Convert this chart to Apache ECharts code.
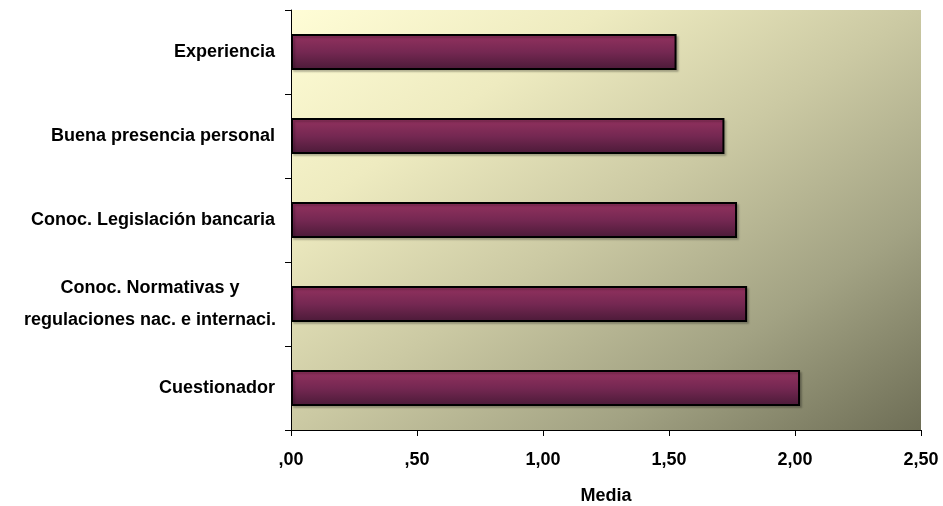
<!DOCTYPE html>
<html>
<head>
<meta charset="utf-8">
<script src="https://cdn.jsdelivr.net/npm/echarts@6/dist/echarts.min.js"></script>
<style>
  html, body { margin: 0; padding: 0; background: #ffffff; }
  #chart { width: 943px; height: 506px; }
</style>
</head>
<body>
<div id="chart"></div>
<script>
// Categories listed bottom to top (category axis grows upward)
const categories = [
  'Cuestionador',
  'Conoc. Normativas y\nregulaciones nac. e internaci.',
  'Conoc. Legislación bancaria',
  'Buena presencia personal',
  'Experiencia'
];
const media = [2.02, 1.81, 1.77, 1.72, 1.53];
const xTicks = [0, 0.5, 1, 1.5, 2, 2.5];

const FONT = '"Liberation Sans", Arial, sans-serif';
const FS = 18;

function fmtTick(v) {
  // 0.5 -> ",50", 1.5 -> "1,50"
  let s = v.toFixed(2).replace('.', ',');
  if (s.startsWith('0')) s = s.slice(1);
  return s;
}

// Plot area box in pixels
const G = { left: 291, right: 22, top: 10, bottom: 76 };
const W = 943 - G.left - G.right;
const H = 506 - G.top - G.bottom;
// Diagonal shading whose bands run parallel to the box's anti-diagonal
const k = (2 * W * H) / (H * H + W * W);
const bgGrad = new echarts.graphic.LinearGradient(
  G.left, G.top, G.left + H * k, G.top + W * k,
  [
    { offset: 0, color: '#fffdd6' },
    { offset: 0.25, color: '#eeebc0' },
    { offset: 0.5, color: '#cbc9a3' },
    { offset: 0.75, color: '#a2a283' },
    { offset: 1, color: '#6e6e56' }
  ],
  true
);

const chart = echarts.init(document.getElementById('chart'), null, { renderer: 'canvas' });

chart.setOption({
  animation: false,
  backgroundColor: '#ffffff',
  grid: {
    left: G.left, right: G.right, top: G.top, bottom: G.bottom,
    containLabel: false,
    outerBoundsMode: 'none',
    show: true,
    borderWidth: 0,
    backgroundColor: bgGrad
  },
  xAxis: {
    type: 'value',
    min: xTicks[0],
    max: xTicks[xTicks.length - 1],
    interval: 0.5,
    name: 'Media',
    nameLocation: 'middle',
    nameGap: 57,
    nameTextStyle: { fontFamily: FONT, fontWeight: 'bold', fontSize: FS, color: '#000' },
    axisLine: { show: true, lineStyle: { color: '#000', width: 1 } },
    axisTick: { show: true, length: 6, lineStyle: { color: '#000' } },
    axisLabel: {
      margin: 21,
      fontFamily: FONT, fontWeight: 'bold', fontSize: FS, color: '#000',
      formatter: fmtTick
    },
    splitLine: { show: false }
  },
  yAxis: {
    type: 'category',
    data: categories,
    axisLine: { show: true, lineStyle: { color: '#000', width: 1 } },
    axisTick: { show: true, length: 6, lineStyle: { color: '#000' } },
    axisLabel: {
      margin: 16,
      fontFamily: FONT, fontWeight: 'bold', fontSize: FS, color: '#000',
      lineHeight: 32,
      formatter: function (v) {
        if (v.indexOf('\n') >= 0) {
          return v.split('\n').map(function (l) { return '{c|' + l + '}'; }).join('\n');
        }
        return v;
      },
      rich: {
        c: {
          width: 250, align: 'center',
          fontFamily: FONT, fontWeight: 'bold', fontSize: FS, color: '#000', lineHeight: 32
        }
      }
    }
  },
  series: [{
    type: 'bar',
    data: media,
    barWidth: 36,
    itemStyle: {
      color: new echarts.graphic.LinearGradient(0, 0, 0, 1, [
        { offset: 0, color: '#94325f' },
        { offset: 0.5, color: '#752852' },
        { offset: 1, color: '#4a1a38' }
      ]),
      borderColor: '#000',
      borderWidth: 2,
      shadowColor: 'rgba(0,0,0,0.2)',
      shadowOffsetX: 2,
      shadowOffsetY: 2,
      shadowBlur: 2
    }
  }]
});
</script>
</body>
</html>
